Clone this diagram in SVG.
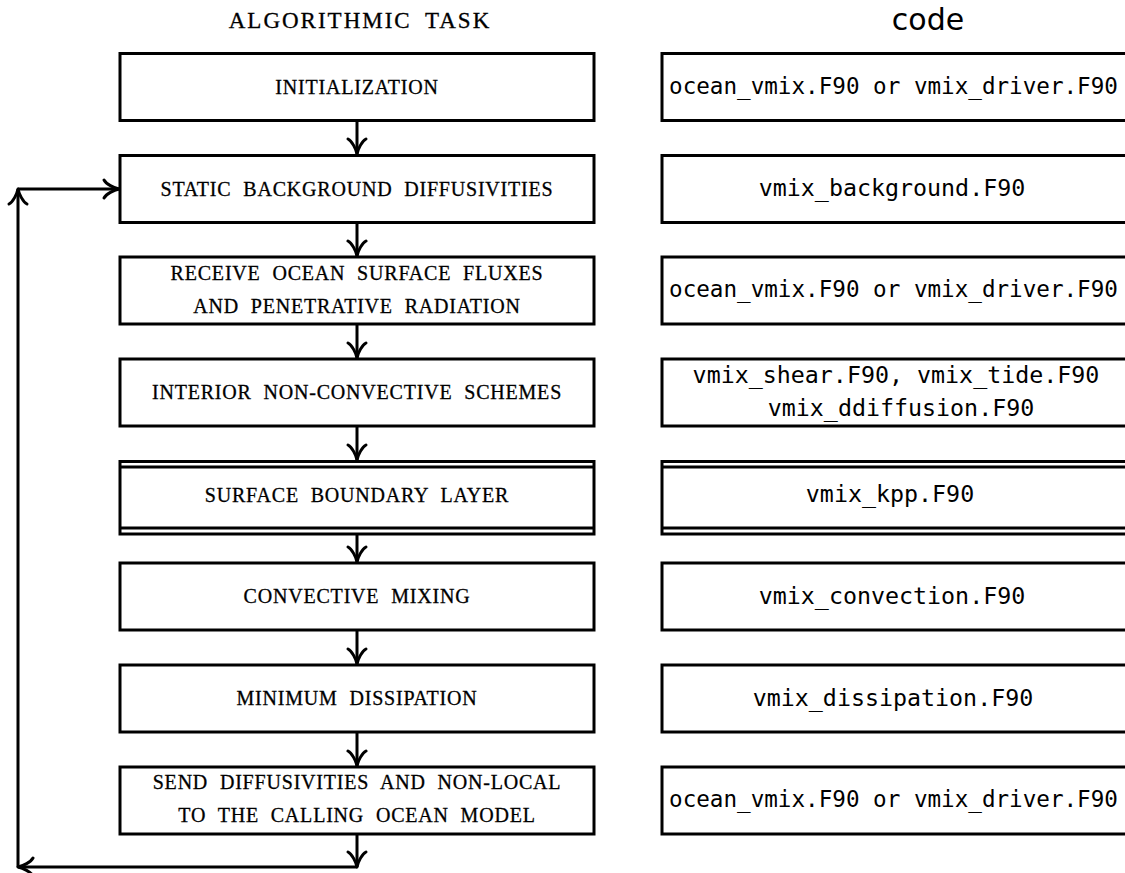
<svg xmlns="http://www.w3.org/2000/svg" width="1125" height="873" viewBox="0 0 1125 873">
<style>
.box{fill:#fff;stroke:#000;stroke-width:3}
.ln{fill:none;stroke:#000;stroke-width:3}
.conn{fill:none;stroke:#000;stroke-width:3;marker-end:url(#arr)}
.task{font-family:"Liberation Serif",serif;font-size:20px;letter-spacing:0.8px;word-spacing:6px;text-anchor:middle;fill:#000;stroke:#000;stroke-width:0.3}
.code{font-family:"DejaVu Sans Mono",monospace;font-size:23.3px;text-anchor:middle;fill:#000}
.long{font-size:22.6px}
.h1{font-family:"Liberation Serif",serif;font-size:23px;letter-spacing:2px;word-spacing:6px;text-anchor:middle;stroke:#000;stroke-width:0.3}
.h2{font-family:"DejaVu Sans",sans-serif;font-size:30px;text-anchor:middle}
</style>
<defs>
<marker id="arr" viewBox="-18 -12 20 24" refX="0" refY="0" markerWidth="20" markerHeight="24" markerUnits="userSpaceOnUse" orient="auto" overflow="visible">
<path d="M -15,-9 C -13,-5 -5,-1 0,0 C -5,1 -13,5 -15,9" fill="none" stroke="#000" stroke-width="3" stroke-linecap="round" stroke-linejoin="round"/>
</marker>
</defs>
<g id="headers">
<text class="h1" x="360" y="28">ALGORITHMIC TASK</text>
<text class="h2" x="928" y="30">code</text>
</g>
<g id="connectors">
<path class="conn" d="M357,121 V154"/>
<path class="conn" d="M357,222 V256"/>
<path class="conn" d="M357,324 V358"/>
<path class="conn" d="M357,426 V460"/>
<path class="conn" d="M357,534 V562"/>
<path class="conn" d="M357,630 V664"/>
<path class="conn" d="M357,732 V766"/>
<path class="conn" d="M357,834 V867"/>
<path class="conn" d="M357,867 H18"/>
<path class="conn" d="M18,867 V189"/>
<path class="conn" d="M18,189 H119"/>
</g>
<g id="t1"><rect class="box" x="120" y="53.5" width="474" height="67"/><text class="task" x="357" y="93.5">INITIALIZATION</text></g>
<g id="t2"><rect class="box" x="120" y="155.5" width="474" height="67"/><text class="task" x="357" y="195.5">STATIC BACKGROUND DIFFUSIVITIES</text></g>
<g id="t3"><rect class="box" x="120" y="257" width="474" height="67"/><text class="task" x="357" y="280">RECEIVE OCEAN SURFACE FLUXES</text><text class="task" x="357" y="313">AND PENETRATIVE RADIATION</text></g>
<g id="t4"><rect class="box" x="120" y="359" width="474" height="67"/><text class="task" x="357" y="399">INTERIOR NON-CONVECTIVE SCHEMES</text></g>
<g id="t5"><rect class="box" x="120" y="461.5" width="474" height="72.5"/><path class="ln" d="M120,467 H594 M120,528 H594"/><text class="task" x="357" y="501.5">SURFACE BOUNDARY LAYER</text></g>
<g id="t6"><rect class="box" x="120" y="563" width="474" height="67"/><text class="task" x="357" y="603">CONVECTIVE MIXING</text></g>
<g id="t7"><rect class="box" x="120" y="665" width="474" height="67"/><text class="task" x="357" y="705">MINIMUM DISSIPATION</text></g>
<g id="t8"><rect class="box" x="120" y="767" width="474" height="67"/><text class="task" x="357" y="789">SEND DIFFUSIVITIES AND NON-LOCAL</text><text class="task" x="357" y="822">TO THE CALLING OCEAN MODEL</text></g>
<g id="c1"><rect class="box" x="662" y="53.5" width="480" height="67"/><text class="code long" x="893.5" y="94">ocean_vmix.F90 or vmix_driver.F90</text></g>
<g id="c2"><rect class="box" x="662" y="155.5" width="480" height="67"/><text class="code" x="892" y="196">vmix_background.F90</text></g>
<g id="c3"><rect class="box" x="662" y="257" width="480" height="67"/><text class="code long" x="893.5" y="297">ocean_vmix.F90 or vmix_driver.F90</text></g>
<g id="c4"><rect class="box" x="662" y="359" width="480" height="67"/><text class="code" x="896" y="382.5">vmix_shear.F90, vmix_tide.F90</text><text class="code" x="901" y="415.5">vmix_ddiffusion.F90</text></g>
<g id="c5"><rect class="box" x="662" y="461.5" width="480" height="72.5"/><path class="ln" d="M662,467 H1142 M662,528 H1142"/><text class="code" x="890" y="502">vmix_kpp.F90</text></g>
<g id="c6"><rect class="box" x="662" y="563" width="480" height="67"/><text class="code" x="892" y="603.5">vmix_convection.F90</text></g>
<g id="c7"><rect class="box" x="662" y="665" width="480" height="67"/><text class="code" x="893" y="705.5">vmix_dissipation.F90</text></g>
<g id="c8"><rect class="box" x="662" y="767" width="480" height="67"/><text class="code long" x="893.5" y="807">ocean_vmix.F90 or vmix_driver.F90</text></g>
</svg>
